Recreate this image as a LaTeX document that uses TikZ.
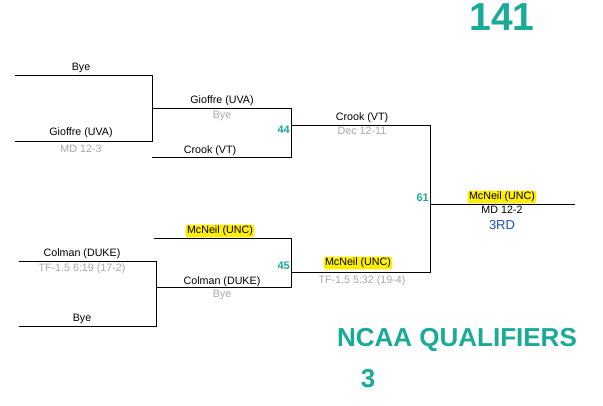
\documentclass[tikz,border=0pt]{standalone}
\usepackage{fontspec}
\setmainfont{Liberation Sans}
\begin{document}
\definecolor{teal2}{HTML}{1AAA98}
\definecolor{gr}{HTML}{A8A8A8}
\definecolor{hl}{HTML}{FFEE00}
\definecolor{bl}{HTML}{1F4FB0}
\begin{tikzpicture}[x=1pt,y=-1pt,
 nm/.style={font=\fontsize{10.7}{10}\selectfont,inner sep=1pt},
 sub/.style={font=\fontsize{10.7}{10}\selectfont,text=gr,inner sep=1pt},
 hil/.style={nm,fill=hl,rounded corners=3pt,inner sep=1.5pt},
 num/.style={font=\fontsize{11}{10}\selectfont\bfseries,text=teal2,inner sep=0pt,anchor=east},
 ln/.style={line width=0.8pt}]
\useasboundingbox (0,0) rectangle (603,405);
\coordinate (a1) at (15,75); \coordinate (a2) at (152,75);
\coordinate (b1) at (15,141); \coordinate (b2) at (152,141);
\coordinate (c1) at (152,108); \coordinate (c2) at (291,108);
\coordinate (d1) at (152,157); \coordinate (d2) at (291,157);
\coordinate (e1) at (291,125); \coordinate (e2) at (430,125);
\coordinate (f1) at (154,238); \coordinate (f2) at (291,238);
\coordinate (g1) at (19,261); \coordinate (g2) at (156,261);
\coordinate (h1) at (19,326); \coordinate (h2) at (156,326);
\coordinate (i1) at (156,287); \coordinate (i2) at (291,287);
\coordinate (j1) at (291,272); \coordinate (j2) at (430,272);
\coordinate (k1) at (430,204); \coordinate (k2) at (575,204);
\draw[ln] (a1)--(a2)--(b2)--(b1);
\draw[ln] (c1)--(c2)--(d2)--(d1);
\draw[ln] (f1)--(f2)--(i2)--(i1);
\draw[ln] (g1)--(g2)--(h2)--(h1);
\draw[ln] (e1)--(e2)--(j2)--(j1);
\draw[ln] (k1)--(k2);
\node[nm] (t1) at (81,68) {Bye};
\node[nm] (t2) at (81,133) {Gioffre (UVA)};
\node[sub] (t3) at (81,149) {MD 12-3};
\node[nm] (t4) at (222,101) {Gioffre (UVA)};
\node[sub] (t5) at (222,116) {Bye};
\node[nm] (t6) at (210,151) {Crook (VT)};
\node[num] (n44) at (290,130) {44};
\node[nm] (t7) at (362,118) {Crook (VT)};
\node[sub] (t8) at (362,131) {Dec 12-11};
\node[hil] (t9) at (220,231) {McNeil (UNC)};
\node[nm] (t10) at (82,254) {Colman (DUKE)};
\node[sub] (t11) at (82,269) {TF-1.5 6:19 (17-2)};
\node[nm] (t12) at (82,319) {Bye};
\node[nm] (t13) at (222,282) {Colman (DUKE)};
\node[sub] (t14) at (222,295) {Bye};
\node[num] (n45) at (290,266) {45};
\node[hil] (t15) at (358,263) {McNeil (UNC)};
\node[sub] (t16) at (362,281) {TF-1.5 5:32 (19-4)};
\node[num] (n61) at (429,198) {61};
\node[hil] (t17) at (502,197) {McNeil (UNC)};
\node[nm] (t18) at (502,210) {MD 12-2};
\node[nm,text=bl,font=\fontsize{13}{12}\selectfont] (t19) at (502,225) {3RD};
\node[font=\fontsize{39}{39}\selectfont\bfseries,text=teal2,inner sep=0pt] (big) at (502,17) {141};
\node[font=\fontsize{26}{26}\selectfont\bfseries,text=teal2,inner sep=0pt] (nq) at (457,340) {NCAA QUALIFIERS};
\node[font=\fontsize{26}{26}\selectfont\bfseries,text=teal2,inner sep=0pt] (three) at (368,379) {3};
\end{tikzpicture}
\end{document}
